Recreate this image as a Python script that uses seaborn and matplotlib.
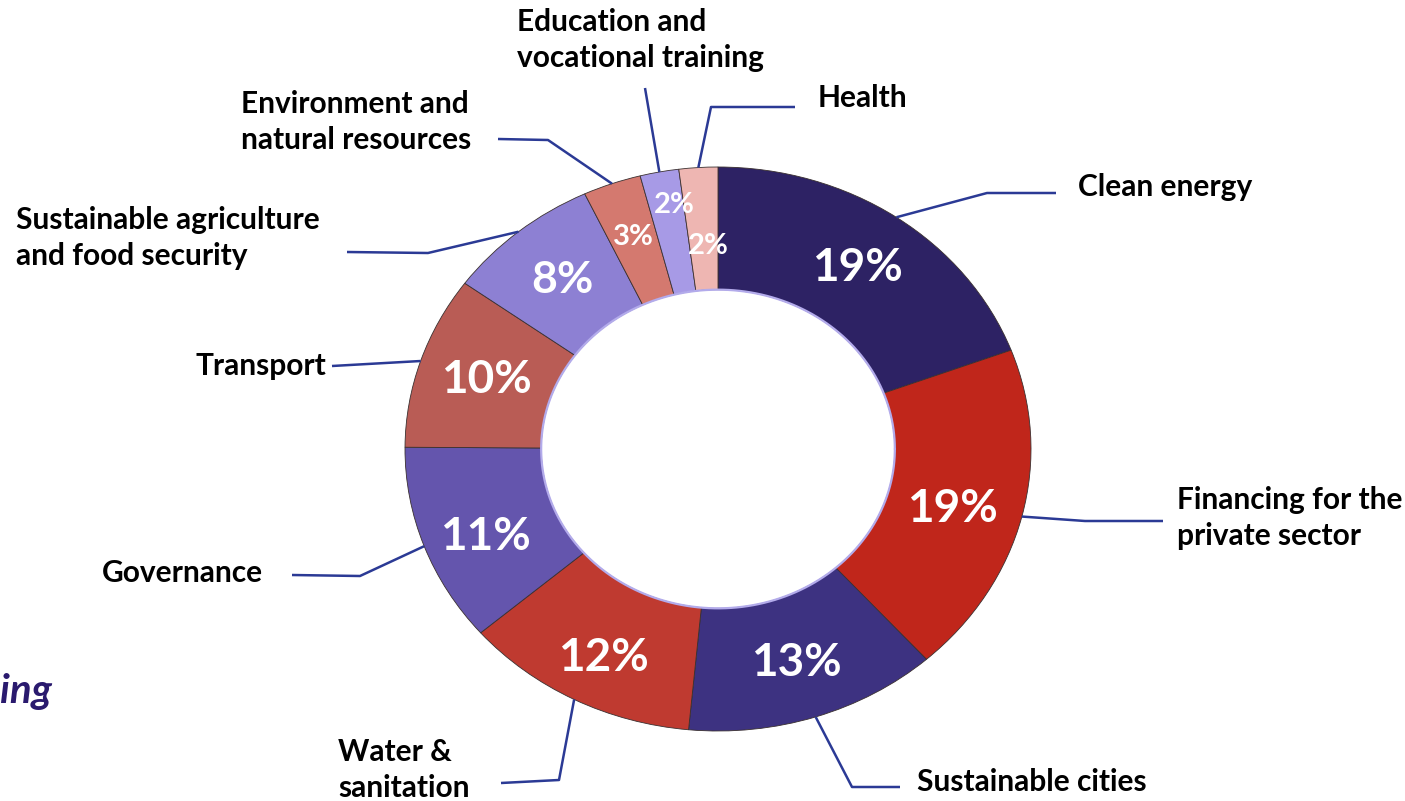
import numpy as np
import matplotlib
matplotlib.use('Agg')
import matplotlib.pyplot as plt
import seaborn as sns

sectors = ['Clean energy', 'Financing for the\nprivate sector', 'Sustainable cities',
           'Water &\nsanitation', 'Governance', 'Transport',
           'Sustainable agriculture\nand food security', 'Environment and\nnatural resources',
           'Education and\nvocational training', 'Health']
shares = [19.3, 19.1, 13.1, 12.2, 11.4, 9.9, 8.0, 3.0, 2.0, 2.0]
colors = ['#2D2264', '#C0261B', '#3D3281', '#BF3A30', '#6455AD',
          '#B95C55', '#8D80D3', '#D4796F', '#A79AE6', '#EEB6B2']

sns.set_style('white')
plt.rcParams['font.family'] = ['Lato', 'DejaVu Sans']

W, H = 1405, 801
CX, CY, RX, RY = 718, 449, 313, 282   # ring centre / radii in pixels


def px(x, y):
    # pixel position -> data coords of the unit pie
    return (x - CX) / RX, (CY - y) / RY


fig = plt.figure(figsize=(W / 100, H / 100), dpi=100)
ax = fig.add_axes([0, 0, 1, 1])

wedges, _ = ax.pie(shares, colors=sns.color_palette(colors), startangle=90,
                   counterclock=False, radius=1,
                   wedgeprops=dict(width=0.435, edgecolor='#3a3030', linewidth=0.6))
ax.set_aspect('auto')
x0, y0 = px(0, H)
x1, y1 = px(W, 0)
ax.set_xlim(x0, x1)
ax.set_ylim(y0, y1)
ax.axis('off')

# soft lavender rim around the hole
t = np.linspace(0, 2 * np.pi, 400)
ax.plot(0.565 * np.cos(t), 0.565 * np.sin(t), color='#B3ABEB', lw=1.6, zorder=5)

# percentage labels inside the ring
pct_r = [0.78, 0.77, 0.80, 0.80, 0.79, 0.78, 0.78, 0.80, 0.88, 0.72]
pct_dx = [0, 0, 0, 0, 0, 0, 0, 0, 0.025, 0.015]
pct_dy = [0, 0.03, 0, 0.03, 0.04, 0, 0, 0, 0, 0]
pct_fs = [33, 33, 33, 33, 33, 33, 32, 21, 21, 21]
for w, v, r, dx, dy, fs in zip(wedges, shares, pct_r, pct_dx, pct_dy, pct_fs):
    a = np.deg2rad((w.theta1 + w.theta2) / 2)
    ax.text(r * np.cos(a) + dx, r * np.sin(a) - dy, f'{round(v)}%', ha='center', va='center',
            color='white', fontsize=fs, fontweight='bold', zorder=6)

# leader lines: bend point and end point in pixels, label anchor
bends = [(987, 193), (1085, 521), (852, 787), (559, 780), (360, 576),
         None, (428, 253), (548, 140), None, (711, 107)]
ends = [(1056, 193), (1163, 521), (900, 787), (501, 783), (292, 575),
        (332, 366), (347, 252), (498, 139), (645, 88), (795, 107)]
label_pos = [(1078, 187, 'left'), (1177, 518, 'left'), (917, 782, 'left'),
             (338, 770, 'left'), (102, 573, 'left'), (326, 366, 'right'),
             (16, 238, 'left'), (241, 122, 'left'), (517, 40, 'left'),
             (818, 98, 'left')]

for w, name, b, e, (lx, ly, ha) in zip(wedges, sectors, bends, ends, label_pos):
    a = np.deg2rad((w.theta1 + w.theta2) / 2)
    pts = [(np.cos(a), np.sin(a))]
    if b is not None:
        pts.append(px(*b))
    pts.append(px(*e))
    xs, ys = zip(*pts)
    ax.plot(xs, ys, color='#2B3A95', lw=1.8, solid_capstyle='butt', zorder=4)
    tx, ty = px(lx, ly)
    ax.text(tx, ty, name, ha=ha, va='center', fontsize=21.5, fontweight='bold',
            color='black', linespacing=1.35)

# clipped title fragment at the lower left
tx, ty = px(0, 692)
ax.text(tx, ty, 'ing', ha='left', va='center', fontsize=29, fontweight='bold',
        fontstyle='italic', color='#2A1A6E')

fig.savefig('out.png', dpi=100, facecolor='white')
